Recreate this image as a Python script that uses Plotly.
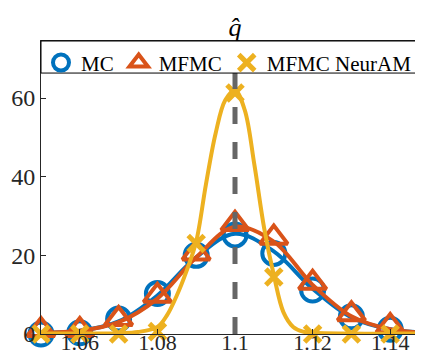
import plotly.graph_objects as go

# sample grid and reference value
x_pts = [1.05, 1.06, 1.07, 1.08, 1.09, 1.10, 1.11, 1.12, 1.13, 1.14]
q_ref = 1.1

# marker values
mc_pts = [0.0, 0.3, 3.8, 10.3, 20.0, 25.2, 20.5, 11.2, 4.4, 1.2]
mfmc_pts = [1.0, 1.0, 3.8, 9.7, 20.5, 28.0, 24.5, 13.0, 5.0, 2.0]
neuram_pts = [0.0, 0.0, 0.0, 0.6, 23.0, 61.3, 14.5, 0.0, 0.0, 0.0]

# smooth density curves
mc_cx = [1.05, 1.06, 1.07, 1.08, 1.09, 1.10, 1.11, 1.12, 1.13, 1.14, 1.15]
mc_cy = [0.3, 0.8, 3.2, 9.8, 19.5, 25.5, 21.0, 11.5, 4.2, 1.2, 0.3]
mfmc_cx = [1.05, 1.06, 1.07, 1.08, 1.09, 1.10, 1.11, 1.12, 1.13, 1.14, 1.15]
mfmc_cy = [0.3, 0.8, 3.0, 9.0, 19.5, 27.3, 23.5, 12.5, 4.5, 1.2, 0.3]
neuram_cx = [1.05, 1.06, 1.07, 1.075, 1.08, 1.0825, 1.085, 1.0875, 1.09, 1.0925,
             1.095, 1.0975, 1.10, 1.1025, 1.105, 1.1075, 1.11, 1.1125, 1.115,
             1.1175, 1.12, 1.13, 1.14, 1.15]
neuram_cy = [0.1, 0.1, 0.2, 0.5, 1.8, 4.8, 9.8, 16.0, 23.5, 38.0,
             51.0, 59.5, 62.0, 57.0, 43.0, 27.0, 15.0, 5.5, 1.8,
             0.6, 0.3, 0.1, 0.1, 0.1]

y_top = 74.5
blue = "#0072BD"
orange = "#D95319"
yellow = "#EDB120"
serif = "Liberation Serif"
tick_font = dict(family=serif, size=24, color="#262626")

fig = go.Figure()

series = [
    ("MC", mc_cx, mc_cy, mc_pts, blue, "circle-open", 23, 4),
    ("MFMC", mfmc_cx, mfmc_cy, mfmc_pts, orange, "triangle-up-open", 24, 4),
    ("MFMC NeurAM", neuram_cx, neuram_cy, neuram_pts, yellow, "x-thin-open", 16, 5),
]

for name, cx, cy, pts, col, sym, size, mlw in series:
    fig.add_trace(go.Scatter(
        x=cx, y=cy, mode="lines", line=dict(color=col, width=4, shape="spline"),
        showlegend=False, hoverinfo="skip",
    ))
    fig.add_trace(go.Scatter(
        x=x_pts, y=pts, mode="lines+markers", name=name,
        line=dict(color=col, width=0.01),
        marker=dict(symbol=sym, size=size, color=col, line=dict(color=col, width=mlw)),
        cliponaxis=False,
    ))

fig.add_vline(x=q_ref, line=dict(color="#666666", width=5, dash="17px,18px"), layer="above")

# legend box covering the top of the axes
fig.add_shape(type="rect", xref="paper", yref="paper", x0=0, x1=1,
              y0=(325.5 - 65) / 292.5, y1=1, fillcolor="white",
              line=dict(color="black", width=1), layer="above")

fig.update_layout(
    width=423, height=357,
    margin=dict(l=33, r=2, t=33, b=31),
    plot_bgcolor="white", paper_bgcolor="white",
    font=dict(family=serif, size=24, color="#262626"),
    title=dict(text="<i>q\u0302</i>", x=(33 + 194) / 423, xanchor="center",
               y=0.948, yanchor="middle", font=dict(size=26, color="black")),
    showlegend=True,
    legend=dict(orientation="h", x=0.0, y=0.995, xanchor="left", yanchor="top",
                bgcolor="rgba(0,0,0,0)", borderwidth=0,
                font=dict(size=21, color="black"), itemwidth=30,
                itemsizing="trace"),
)
fig.update_xaxes(
    range=[1.05, 1.15], tickvals=[1.06, 1.08, 1.1, 1.12, 1.14],
    ticktext=["1.06", "1.08", "1.1", "1.12", "1.14"],
    tickfont=dict(family=serif, size=22, color="#262626"),
    ticks="inside", ticklen=5, tickcolor="#262626", ticklabelstandoff=-11,
    showline=True, linecolor="#262626", linewidth=1, mirror=True,
    showgrid=False, zeroline=False,
)
fig.update_yaxes(
    range=[0, y_top], tickvals=[0, 20, 40, 60], tickfont=tick_font,
    ticks="inside", ticklen=5, tickcolor="#262626",
    showline=True, linecolor="#262626", linewidth=1, mirror=True,
    showgrid=False, zeroline=False,
)

fig.write_html("out.html")
